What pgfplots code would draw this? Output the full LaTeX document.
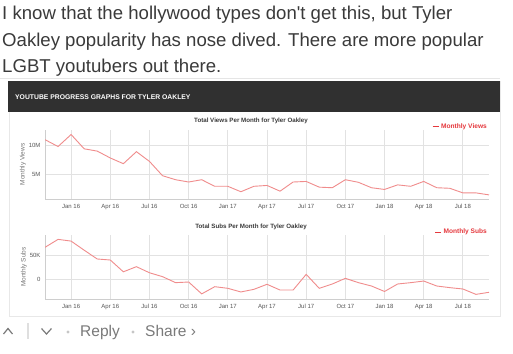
\documentclass[border=0pt]{standalone}
\usepackage{fontspec}
\setmainfont{Liberation Sans}[Ligatures=TeXOff]
\usepackage{pgfplots}
\pgfplotsset{compat=1.18}
\definecolor{txt}{HTML}{3A3A3A}
\definecolor{uigray}{HTML}{7A7A7A}
\definecolor{hdr}{HTML}{303030}
\definecolor{linecol}{HTML}{F08C8C}
\definecolor{legred}{HTML}{E5383D}
\definecolor{gridc}{HTML}{E2E2E2}
\definecolor{tickc}{HTML}{555555}
\pgfplotsset{
  every axis title/.style={at={(0.464,1)}, anchor=south, yshift=3.5pt, inner sep=2pt,
    font=\bfseries\fontsize{6.2}{7}\selectfont, text=txt},
  tinychart/.style={
    scale only axis, anchor=south west,
    width=444pt, xmin=0, xmax=34,
    axis x line*=bottom, axis y line*=left,
    axis line style={-, draw=gridc!80!gray, line width=1pt},
    grid=major, grid style={gridc, line width=0.8pt},
    major tick length=0pt,
    xtick={2,5,8,11,14,17,20,23,26,29,32},
    xticklabels={Jan 16,Apr 16,Jul 16,Oct 16,Jan 17,Apr 17,Jul 17,Oct 17,Jan 18,Apr 18,Jul 18},
    tick label style={font=\fontsize{6}{6.5}\selectfont, text=tickc},
    xticklabel style={yshift=-2pt},
    yticklabel style={xshift=-1pt},
    /pgf/number format/assume math mode=true,
    ylabel style={font=\fontsize{6.5}{7}\selectfont, text=tickc!80},
    legend style={at={(1,1)}, anchor=east, yshift=3pt, draw=none, fill=none,
      font=\bfseries\fontsize{6.6}{7}\selectfont, text=legred, inner sep=0pt},
    legend image code/.code={\draw[legred, line width=0.9pt] (0pt,0pt) -- (6pt,0pt);},
  }
}
\begin{document}
\begin{tikzpicture}
\useasboundingbox (0pt,0pt) rectangle (513pt,-353pt);
\fill[white] (0pt,0pt) rectangle (513pt,-353pt);
% comment text
\begin{scope}[font=\fontsize{18.6}{22}\selectfont, text=txt]
\node[anchor=base west, inner sep=0pt] at (2pt,-20pt) {I know that the hollywood types don't get this, but Tyler};
\node[anchor=base west, inner sep=0pt] at (2pt,-46pt) {Oakley popularity has nose dived. There are more popular};
\node[anchor=base west, inner sep=0pt] at (2pt,-72pt) {LGBT youtubers out there.};
\end{scope}
\draw[gray!20, line width=1pt] (0pt,-78pt) -- (500pt,-78pt);
% card
\draw[gray!18, line width=1pt] (9pt,-81pt) rectangle (500pt,-316pt);
\fill[hdr] (8pt,-81pt) rectangle (500pt,-112pt);
\node[anchor=west, inner sep=0pt, text=white, font=\bfseries\fontsize{6.8}{7}\selectfont] at (15pt,-97pt) {YOUTUBE PROGRESS GRAPHS FOR TYLER OAKLEY};
% top chart
\begin{axis}[tinychart, at={(45pt,-199pt)}, height=69.3pt,
  ymin=0.63, ymax=12.74, ytick={5,10}, yticklabels={5M,10M},
  ylabel={Monthly Views}, ylabel shift=-4pt,
  title={Total Views Per Month for Tyler Oakley}]
\addplot[linecol, line width=0.9pt] coordinates {
(0,11.0) (1,9.8) (2,11.9) (3,9.4) (4,9.0) (5,7.8) (6,6.8) (7,8.9) (8,7.2) (9,4.7)
(10,4.0) (11,3.6) (12,4.0) (13,2.85) (14,2.85) (15,1.9) (16,2.85) (17,3.0) (18,2.0) (19,3.6)
(20,3.7) (21,2.7) (22,2.6) (23,4.0) (24,3.55) (25,2.6) (26,2.3) (27,3.1) (28,2.85) (29,3.7)
(30,2.6) (31,2.5) (32,1.7) (33,1.7) (34,1.35)};
\addlegendentry{Monthly Views}
\end{axis}
% bottom chart
\begin{axis}[tinychart, at={(45pt,-299pt)}, height=64pt,
  ymin=-41.67, ymax=91.7, ytick={0,50}, yticklabels={0,50K},
  ylabel={Monthly Subs}, ylabel shift=-4pt,
  title={Total Subs Per Month for Tyler Oakley}]
\addplot[linecol, line width=0.9pt] coordinates {
(0,66) (1,82.6) (2,79) (3,60) (4,41.7) (5,39.6) (6,15) (7,25.7) (8,13) (9,4.9)
(10,-7.6) (11,-6.25) (12,-31) (13,-16) (14,-19.4) (15,-27) (16,-21.5) (17,-11) (18,-23) (19,-23)
(20,9.7) (21,-19.4) (22,-10.4) (23,1.4) (24,-7.6) (25,-14.6) (26,-26) (27,-10.4) (28,-7.6) (29,-4.2)
(30,-14.6) (31,-18) (32,-20.8) (33,-32) (34,-27.7)};
\addlegendentry{Monthly Subs}
\end{axis}
% bottom UI
\draw[uigray, line width=1.2pt] (3.5pt,-334pt) -- (8pt,-328.5pt) -- (12.5pt,-334pt);
\draw[gray!25, line width=2pt] (28pt,-323pt) -- (28pt,-339pt);
\draw[uigray, line width=1.2pt] (41.5pt,-328.5pt) -- (46.5pt,-334pt) -- (51.5pt,-328.5pt);
\fill[gray!45] (68pt,-332pt) circle (1.7pt);
\fill[gray!45] (133pt,-332pt) circle (1.7pt);
\node[anchor=base west, inner sep=0pt, text=uigray, font=\fontsize{15.5}{18}\selectfont] at (80pt,-336.5pt) {Reply};
\node[anchor=base west, inner sep=0pt, text=uigray, font=\fontsize{15.5}{18}\selectfont] at (145pt,-336.5pt) {Share ›};
\end{tikzpicture}
\end{document}
